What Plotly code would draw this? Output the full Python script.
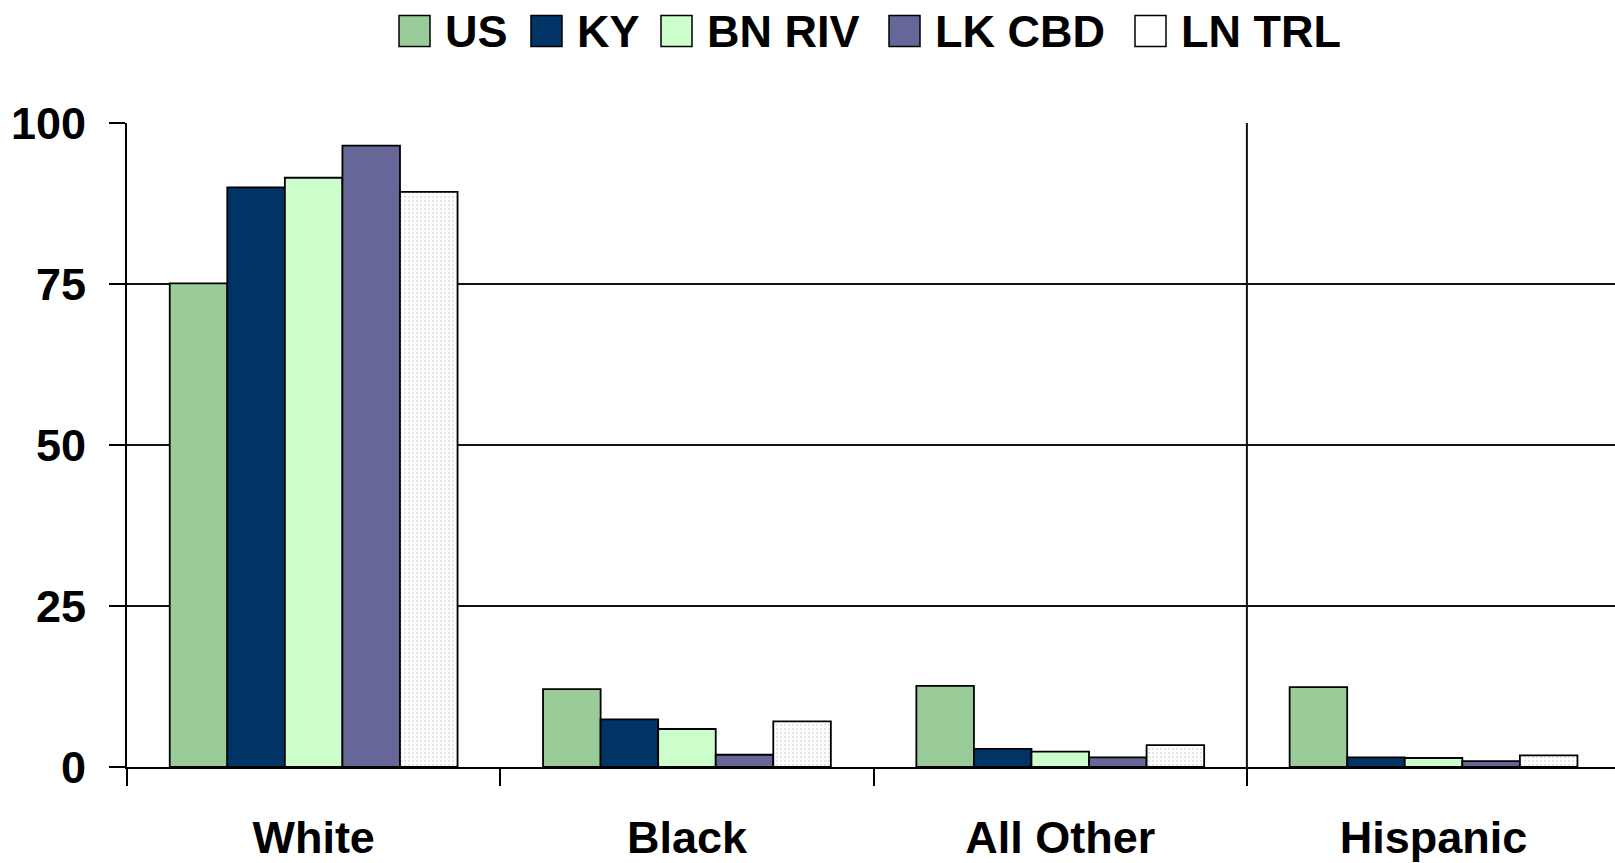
import plotly.graph_objects as go

# ---- data ----
categories = ["White", "Black", "All Other", "Hispanic"]
series_names = ["US", "KY", "BN RIV", "LK CBD", "LN TRL"]
us = [75.1, 12.1, 12.6, 12.4]
ky = [90.0, 7.4, 2.8, 1.5]
bn_riv = [91.5, 5.9, 2.4, 1.4]
lk_cbd = [96.5, 1.9, 1.5, 0.9]
ln_trl = [89.3, 7.1, 3.4, 1.8]
y_ticks = [0, 25, 50, 75, 100]

series_values = [us, ky, bn_riv, lk_cbd, ln_trl]
colors = ["#99CC99", "#003366", "#CCFFCC", "#666699", "#FFFFFF"]

# ---- layout constants ----
W, H = 1615, 863
ML, MT, MB, MR = 127, 123, 96, 0
CAT_PX = 373.3
FONT = "Liberation Sans, Arial, sans-serif"

fig = go.Figure()
for name, vals, col in zip(series_names, series_values, colors):
    marker = dict(color=col, line=dict(color="#000000", width=1.8))
    if name == "LN TRL":
        marker["pattern"] = dict(shape=".", fgcolor="#c8c8c8", bgcolor="#FFFFFF",
                                 size=4, solidity=0.25)
    fig.add_trace(go.Bar(x=categories, y=vals, name=name, marker=marker,
                         showlegend=False))

plot_w = W - ML - MR
x_max = -0.5 + plot_w / CAT_PX

# vertical separator line at the boundary between All Other and Hispanic
shapes = [dict(type="line", xref="x", yref="paper", x0=2.5, x1=2.5, y0=0, y1=1,
               line=dict(color="#111111", width=2), layer="above")]

# custom legend (large square swatches)
annotations = []
box_left_px = [399, 531, 661, 889, 1135]
box_size = 31
legend_cy_px = 31
plot_h = H - MT - MB


def px_to_paper_x(px):
    return (px - ML) / plot_w


def px_to_paper_y(py):
    return (H - MB - py) / plot_h


for name, col, bl in zip(series_names, colors, box_left_px):
    shapes.append(dict(type="rect", xref="paper", yref="paper",
                       x0=px_to_paper_x(bl), x1=px_to_paper_x(bl + box_size),
                       y0=px_to_paper_y(legend_cy_px + box_size / 2),
                       y1=px_to_paper_y(legend_cy_px - box_size / 2),
                       fillcolor=col, line=dict(color="#000000", width=1.5)))
    annotations.append(dict(xref="paper", yref="paper",
                            x=px_to_paper_x(bl + 44), y=px_to_paper_y(legend_cy_px),
                            xanchor="left", yanchor="middle", showarrow=False,
                            text=name,
                            font=dict(family=FONT, size=45, color="#000000", weight="bold")))

fig.update_layout(
    width=W, height=H,
    margin=dict(l=ML, r=MR, t=MT, b=MB, pad=0),
    paper_bgcolor="#FFFFFF", plot_bgcolor="#FFFFFF",
    barmode="group", bargap=0.229, bargroupgap=0,
    showlegend=False,
    shapes=shapes, annotations=annotations,
    font=dict(family=FONT, color="#000000"),
)
fig.update_xaxes(
    range=[-0.5, x_max], showgrid=False, automargin=False,
    showline=True, linecolor="#000000", linewidth=2,
    ticks="outside", tickson="boundaries", ticklen=17, tickwidth=2, tickcolor="#000000",
    tickfont=dict(family=FONT, size=45, color="#000000", weight="bold"),
    ticklabelstandoff=30,
)
fig.update_yaxes(
    range=[0, 100], tickvals=y_ticks, automargin=False,
    showgrid=True, gridcolor="#111111", gridwidth=2,
    showline=True, linecolor="#000000", linewidth=2,
    ticks="outside", ticklen=16, tickwidth=2, tickcolor="#000000",
    tickfont=dict(family=FONT, size=45, color="#000000", weight="bold"),
    ticklabelstandoff=14, zeroline=False,
)

fig.write_html("out.html", config={"displayModeBar": False},
               post_script="document.body.style.margin='0';document.body.style.overflow='hidden';")
